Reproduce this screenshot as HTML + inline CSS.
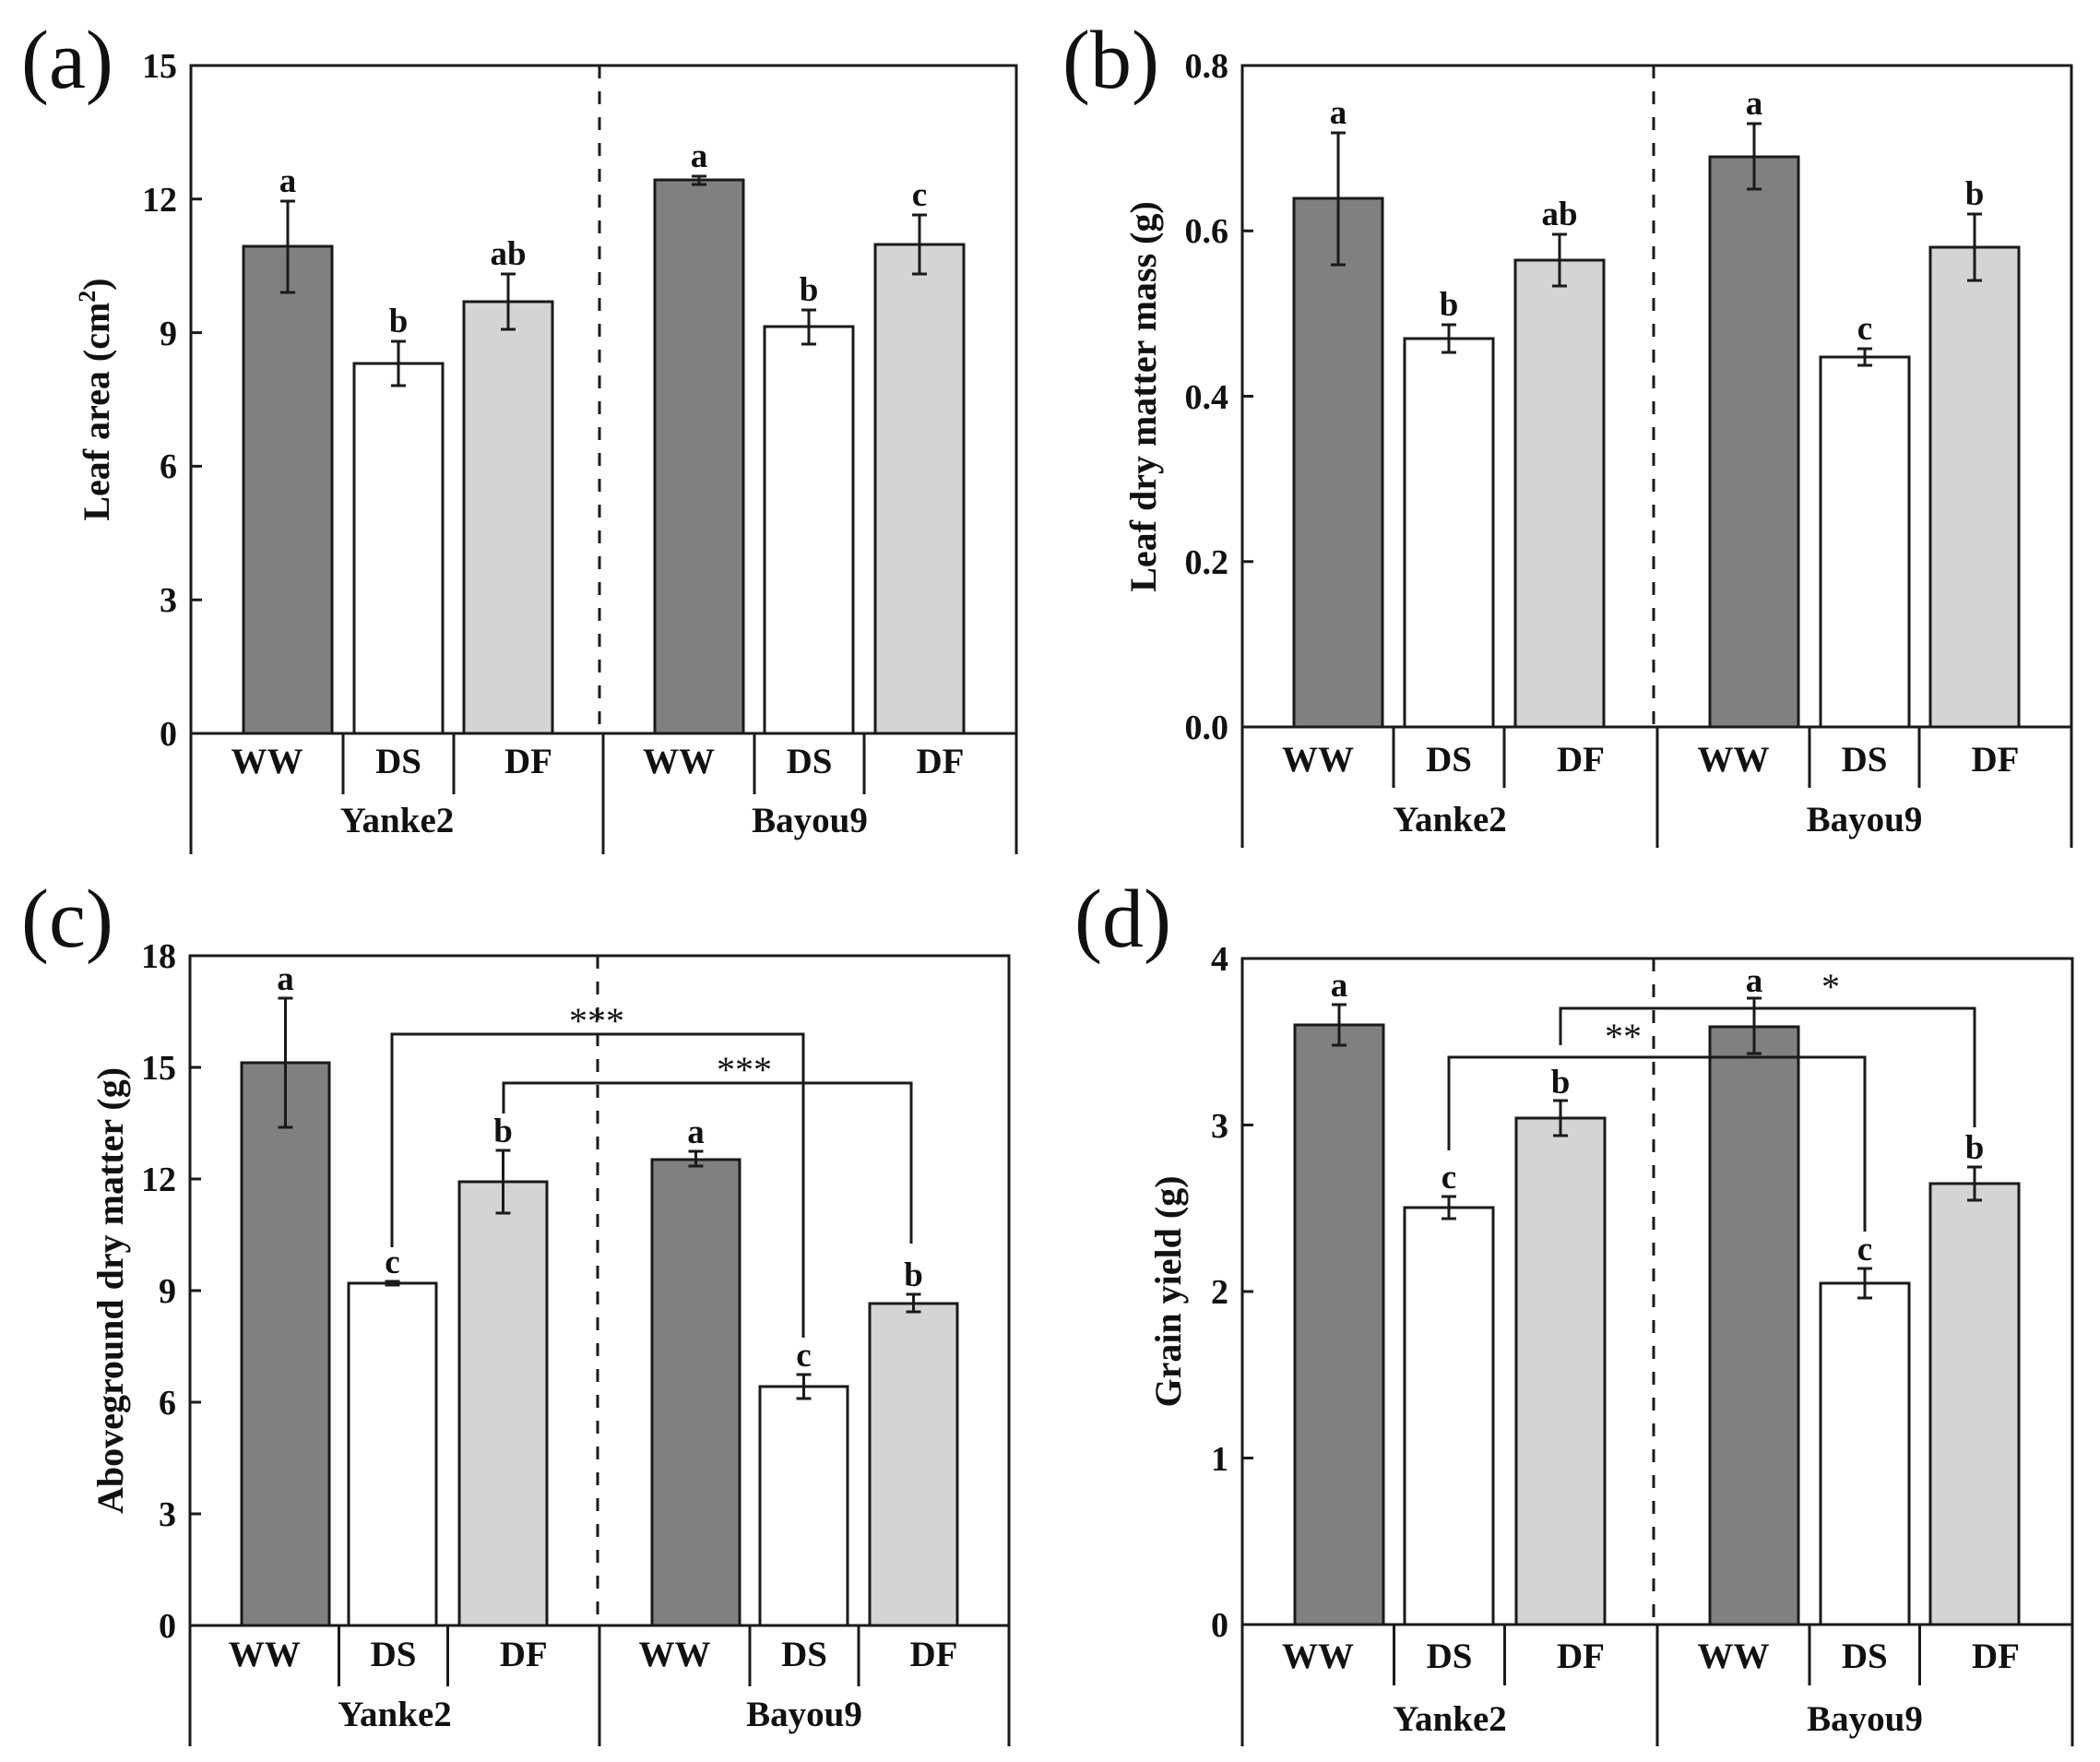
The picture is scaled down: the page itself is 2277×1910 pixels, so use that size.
<!DOCTYPE html>
<html>
<head>
<meta charset="utf-8">
<style>
  html, body { margin: 0; padding: 0; background: #ffffff; }
  svg { display: block; }
  text { font-family: "Liberation Serif", "Times New Roman", serif; fill: #111; }
  .tick { font-size: 38px; font-weight: bold; text-anchor: end; }
  .cat { font-size: 39px; font-weight: bold; text-anchor: middle; }
  .lt { font-size: 37px; font-weight: bold; text-anchor: middle; }
  .ttl { font-size: 40px; font-weight: bold; text-anchor: middle; }
  .pl { font-size: 90px; font-weight: normal; }
  .ast { font-size: 40px; font-weight: normal; text-anchor: middle; }
  .ln { stroke: #1a1a1a; stroke-width: 3; fill: none; }
  .bar { stroke: #1a1a1a; stroke-width: 3; }
  .dk { fill: #808080; }
  .wh { fill: #ffffff; }
  .lg { fill: #d4d4d4; }
  .dash { stroke: #1a1a1a; stroke-width: 3; stroke-dasharray: 14 14; fill: none; }
</style>
</head>
<body>
<svg width="2277" height="1910" viewBox="0 0 2277 1910" xmlns="http://www.w3.org/2000/svg">
<rect x="0" y="0" width="2277" height="1910" fill="#ffffff"/>

<!-- ================= Panel (a) ================= -->
<text class="pl" x="23" y="95">(a)</text>
<rect class="bar dk" x="264" y="267" width="96" height="528"/>
<rect class="bar wh" x="384" y="394" width="96" height="401"/>
<rect class="bar lg" x="503" y="327" width="96" height="468"/>
<rect class="bar dk" x="710" y="195" width="96" height="600"/>
<rect class="bar wh" x="829" y="354" width="96" height="441"/>
<rect class="bar lg" x="949" y="265" width="96" height="530"/>
<line class="dash" x1="650" y1="71" x2="650" y2="795"/>
<path class="ln" d="M312 218V317M304 218H320M304 317H320"/>
<path class="ln" d="M432 370V418M424 370H440M424 418H440"/>
<path class="ln" d="M551 297V357M543 297H559M543 357H559"/>
<path class="ln" d="M758 191V200M750 191H766M750 200H766"/>
<path class="ln" d="M877 336V373M869 336H885M869 373H885"/>
<path class="ln" d="M997 233V297M989 233H1005M989 297H1005"/>
<text class="lt" x="312" y="208">a</text>
<text class="lt" x="432" y="360">b</text>
<text class="lt" x="551" y="287">ab</text>
<text class="lt" x="758" y="181">a</text>
<text class="lt" x="877" y="326">b</text>
<text class="lt" x="997" y="223">c</text>
<rect class="ln" x="207" y="71" width="895" height="724"/>
<path class="ln" d="M207 650.2H219M207 505.4H219M207 360.6H219M207 215.8H219"/>
<text class="tick" x="192" y="808">0</text>
<text class="tick" x="192" y="663">3</text>
<text class="tick" x="192" y="518">6</text>
<text class="tick" x="192" y="374">9</text>
<text class="tick" x="192" y="229">12</text>
<text class="tick" x="192" y="84">15</text>
<path class="ln" d="M207 795V926M1102 795V926M654 795V926M372 795V861M492 795V861M818 795V861M937 795V861"/>
<text class="cat" x="289.5" y="838">WW</text>
<text class="cat" x="432" y="838">DS</text>
<text class="cat" x="573" y="838">DF</text>
<text class="cat" x="736" y="838">WW</text>
<text class="cat" x="877.5" y="838">DS</text>
<text class="cat" x="1019.5" y="838">DF</text>
<text class="cat" x="430.5" y="902">Yanke2</text>
<text class="cat" x="878" y="902">Bayou9</text>
<text class="ttl" transform="translate(118,433) rotate(-90)">Leaf area (cm<tspan font-size="26" dy="-15">2</tspan><tspan dy="15">)</tspan></text>

<!-- ================= Panel (b) ================= -->
<text class="pl" x="1152" y="95">(b)</text>
<rect class="bar dk" x="1403" y="215" width="96" height="573"/>
<rect class="bar wh" x="1523" y="367" width="96" height="421"/>
<rect class="bar lg" x="1643" y="282" width="96" height="506"/>
<rect class="bar dk" x="1854" y="170" width="96" height="618"/>
<rect class="bar wh" x="1974" y="387" width="96" height="401"/>
<rect class="bar lg" x="2093" y="268" width="96" height="520"/>
<line class="dash" x1="1793" y1="71" x2="1793" y2="788"/>
<path class="ln" d="M1451 144V287M1443 144H1459M1443 287H1459"/>
<path class="ln" d="M1571 352V382M1563 352H1579M1563 382H1579"/>
<path class="ln" d="M1691 254V310M1683 254H1699M1683 310H1699"/>
<path class="ln" d="M1902 134V205M1894 134H1910M1894 205H1910"/>
<path class="ln" d="M2022 378V396M2014 378H2030M2014 396H2030"/>
<path class="ln" d="M2141 232V304M2133 232H2149M2133 304H2149"/>
<text class="lt" x="1451" y="134">a</text>
<text class="lt" x="1571" y="342">b</text>
<text class="lt" x="1691" y="244">ab</text>
<text class="lt" x="1902" y="124">a</text>
<text class="lt" x="2022" y="368">c</text>
<text class="lt" x="2141" y="222">b</text>
<rect class="ln" x="1347" y="71" width="899" height="717"/>
<path class="ln" d="M1347 608.75H1359M1347 429.5H1359M1347 250.25H1359"/>
<text class="tick" x="1332" y="801">0.0</text>
<text class="tick" x="1332" y="622">0.2</text>
<text class="tick" x="1332" y="443">0.4</text>
<text class="tick" x="1332" y="263">0.6</text>
<text class="tick" x="1332" y="84">0.8</text>
<path class="ln" d="M1347 788V919M2246 788V919M1797 788V919M1511 788V854M1631 788V854M1962 788V854M2081 788V854"/>
<text class="cat" x="1429" y="836">WW</text>
<text class="cat" x="1571" y="836">DS</text>
<text class="cat" x="1714" y="836">DF</text>
<text class="cat" x="1879.5" y="836">WW</text>
<text class="cat" x="2021.5" y="836">DS</text>
<text class="cat" x="2163.5" y="836">DF</text>
<text class="cat" x="1572" y="901">Yanke2</text>
<text class="cat" x="2021.5" y="901">Bayou9</text>
<text class="ttl" transform="translate(1253,430) rotate(-90)">Leaf dry matter mass (g)</text>

<!-- ================= Panel (c) ================= -->
<text class="pl" x="23" y="1026">(c)</text>
<rect class="bar dk" x="262" y="1152" width="95" height="610"/>
<rect class="bar wh" x="378" y="1391" width="95" height="371"/>
<rect class="bar lg" x="498" y="1281" width="95" height="481"/>
<rect class="bar dk" x="707" y="1257" width="95" height="505"/>
<rect class="bar wh" x="824" y="1503" width="95" height="259"/>
<rect class="bar lg" x="943" y="1413" width="95" height="349"/>
<line class="dash" x1="648" y1="1036" x2="648" y2="1762"/>
<polyline class="ln" points="425,1352 425,1121 871,1121 871,1450"/>
<polyline class="ln" points="546,1207 546,1174 988,1174 988,1348"/>
<text class="ast" x="647" y="1120">***</text>
<text class="ast" x="807" y="1173">***</text>
<path class="ln" d="M309.5 1082V1222M301.5 1082H317.5M301.5 1222H317.5"/>
<path class="ln" d="M425.5 1389V1393M417.5 1389H433.5M417.5 1393H433.5"/>
<path class="ln" d="M545.5 1247V1315M537.5 1247H553.5M537.5 1315H553.5"/>
<path class="ln" d="M754.5 1248V1264M746.5 1248H762.5M746.5 1264H762.5"/>
<path class="ln" d="M871.5 1490V1516M863.5 1490H879.5M863.5 1516H879.5"/>
<path class="ln" d="M990.5 1403V1422M982.5 1403H998.5M982.5 1422H998.5"/>
<text class="lt" x="309.5" y="1073">a</text>
<text class="lt" x="425.5" y="1380">c</text>
<text class="lt" x="545.5" y="1238">b</text>
<text class="lt" x="754.5" y="1239">a</text>
<text class="lt" x="871.5" y="1481">c</text>
<text class="lt" x="990.5" y="1394">b</text>
<rect class="ln" x="206" y="1036" width="888" height="726"/>
<path class="ln" d="M206 1641H218M206 1520H218M206 1399H218M206 1278H218M206 1157H218"/>
<text class="tick" x="191" y="1775">0</text>
<text class="tick" x="191" y="1654">3</text>
<text class="tick" x="191" y="1533">6</text>
<text class="tick" x="191" y="1412">9</text>
<text class="tick" x="191" y="1291">12</text>
<text class="tick" x="191" y="1170">15</text>
<text class="tick" x="191" y="1049">18</text>
<path class="ln" d="M206 1762V1893M1094 1762V1893M650 1762V1893M367.5 1762V1828M485.5 1762V1828M813 1762V1828M931 1762V1828"/>
<text class="cat" x="286.75" y="1806">WW</text>
<text class="cat" x="426.5" y="1806">DS</text>
<text class="cat" x="567.75" y="1806">DF</text>
<text class="cat" x="731.5" y="1806">WW</text>
<text class="cat" x="872" y="1806">DS</text>
<text class="cat" x="1012.5" y="1806">DF</text>
<text class="cat" x="428" y="1871">Yanke2</text>
<text class="cat" x="872" y="1871">Bayou9</text>
<text class="ttl" transform="translate(133,1399) rotate(-90)">Aboveground dry matter (g)</text>

<!-- ================= Panel (d) ================= -->
<text class="pl" x="1165" y="1026">(d)</text>
<rect class="bar dk" x="1404" y="1111" width="96" height="650"/>
<rect class="bar wh" x="1523" y="1309" width="96" height="452"/>
<rect class="bar lg" x="1644" y="1212" width="96" height="549"/>
<rect class="bar dk" x="1854" y="1113" width="96" height="648"/>
<rect class="bar wh" x="1974" y="1391" width="96" height="370"/>
<rect class="bar lg" x="2093" y="1283" width="96" height="478"/>
<line class="dash" x1="1793" y1="1039" x2="1793" y2="1761"/>
<polyline class="ln" points="1571,1247 1571,1146 2022,1146 2022,1335"/>
<polyline class="ln" points="1692,1133 1692,1093 2141,1093 2141,1222"/>
<text class="ast" x="1760" y="1137">**</text>
<text class="ast" x="1985" y="1083">*</text>
<path class="ln" d="M1452 1089V1133M1444 1089H1460M1444 1133H1460"/>
<path class="ln" d="M1571 1297V1321M1563 1297H1579M1563 1321H1579"/>
<path class="ln" d="M1692 1193V1231M1684 1193H1700M1684 1231H1700"/>
<path class="ln" d="M1902 1082V1142M1894 1082H1910M1894 1142H1910"/>
<path class="ln" d="M2022 1375V1407M2014 1375H2030M2014 1407H2030"/>
<path class="ln" d="M2141 1265V1301M2133 1265H2149M2133 1301H2149"/>
<text class="lt" x="1452" y="1080">a</text>
<text class="lt" x="1571" y="1288">c</text>
<text class="lt" x="1692" y="1185">b</text>
<text class="lt" x="1902" y="1075">a</text>
<text class="lt" x="2022" y="1366">c</text>
<text class="lt" x="2141" y="1256">b</text>
<rect class="ln" x="1347" y="1039" width="900" height="722"/>
<path class="ln" d="M1347 1580.5H1359M1347 1400H1359M1347 1219.5H1359"/>
<text class="tick" x="1332" y="1774">0</text>
<text class="tick" x="1332" y="1594">1</text>
<text class="tick" x="1332" y="1413">2</text>
<text class="tick" x="1332" y="1233">3</text>
<text class="tick" x="1332" y="1052">4</text>
<path class="ln" d="M1347 1761V1893M2247 1761V1893M1797 1761V1893M1511.5 1761V1827M1631.5 1761V1827M1962 1761V1827M2081.5 1761V1827"/>
<text class="cat" x="1429" y="1808">WW</text>
<text class="cat" x="1571.5" y="1808">DS</text>
<text class="cat" x="1714" y="1808">DF</text>
<text class="cat" x="1879.5" y="1808">WW</text>
<text class="cat" x="2021.75" y="1808">DS</text>
<text class="cat" x="2164" y="1808">DF</text>
<text class="cat" x="1572" y="1876">Yanke2</text>
<text class="cat" x="2022" y="1876">Bayou9</text>
<text class="ttl" transform="translate(1280,1400) rotate(-90)">Grain yield (g)</text>
</svg>
</body>
</html>
